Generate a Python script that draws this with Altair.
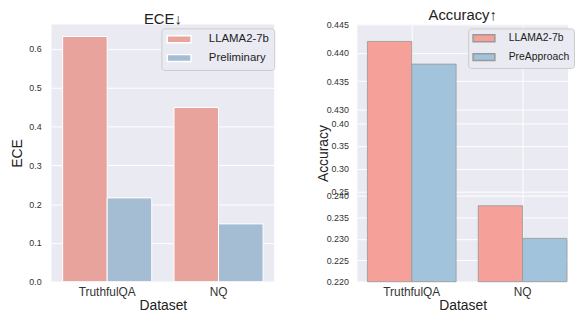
import altair as alt
import pandas as pd

datasets = ["TruthfulQA", "NQ"]

ece_models = ["LLAMA2-7b", "Preliminary"]
ece_llama = [0.632, 0.449]
ece_prelim = [0.216, 0.149]

acc_models = ["LLAMA2-7b", "PreApproach"]
acc_llama = [0.442, 0.2377]
acc_pre = [0.438, 0.2301]

ece_ticks = [0.0, 0.1, 0.2, 0.3, 0.4, 0.5, 0.6]
acc_ticks = [0.220, 0.225, 0.230, 0.235, 0.240, 0.25, 0.30, 0.35, 0.40,
             0.430, 0.435, 0.440, 0.445]
# broken-axis breakpoints (piecewise linear scale)
acc_breaks = [0.220, 0.240, 0.25, 0.40, 0.430, 0.445]
acc_break_px = [260, 173.3, 168.7, 99.8, 85.9, 0]

FONT = "Liberation Sans"
BG = "#eaeaf2"
H = 260

ece_df = pd.DataFrame({
    "Dataset": datasets * 2,
    "model": [ece_models[0]] * 2 + [ece_models[1]] * 2,
    "value": ece_llama + ece_prelim,
})
acc_df = pd.DataFrame({
    "Dataset": datasets * 2,
    "model": [acc_models[0]] * 2 + [acc_models[1]] * 2,
    "value": acc_llama + acc_pre,
    "base": [acc_breaks[0]] * 4,
})


def legend(x, y, size, half_w, sym_off, lab_off, pad, row_pad):
    path = f"M-{half_w},-0.7H{half_w}V0.7H-{half_w}Z"
    return alt.Legend(
        title=None, orient="none", legendX=x, legendY=y,
        fillColor=BG, strokeColor="#cccccc", padding=pad, cornerRadius=3,
        symbolType=path, symbolSize=100, symbolOffset=sym_off,
        labelOffset=lab_off, labelFontSize=size, labelFont=FONT, labelColor="#222",
        rowPadding=row_pad,
    )


xaxis = dict(labelAngle=0, labelFontSize=12, titleFontSize=14,
             labelPadding=5, titlePadding=1)

left = alt.Chart(ece_df, title=alt.Title("ECE↓", fontSize=15, offset=-3)).mark_bar(
    stroke="white", strokeWidth=1
).encode(
    x=alt.X("Dataset:N", sort=datasets,
            scale=alt.Scale(paddingInner=0.2, paddingOuter=0.1),
            axis=alt.Axis(grid=False, **xaxis)),
    xOffset=alt.XOffset("model:N", sort=ece_models,
                        scale=alt.Scale(paddingInner=0, paddingOuter=0)),
    y=alt.Y("value:Q", title="ECE",
            scale=alt.Scale(domain=[0, 0.663], nice=False, zero=True),
            axis=alt.Axis(values=ece_ticks, format=".1f", labelFontSize=9,
                          labelPadding=10.5, titleFontSize=14, titlePadding=4)),
    color=alt.Color("model:N", sort=ece_models,
                    scale=alt.Scale(domain=ece_models, range=["#e8a39d", "#a4bdd3"]),
                    legend=legend(111, 4, 11.5, 2.4, 7, 24, 5, 5)),
).properties(width=225, height=H)

right = alt.Chart(acc_df, title=alt.Title("Accuracy↑", fontSize=15, offset=-3)).mark_bar(
    stroke="#999999", strokeWidth=1, strokeOpacity=0.85
).encode(
    x=alt.X("Dataset:N", sort=datasets,
            scale=alt.Scale(paddingInner=0.2, paddingOuter=0.051, align=0.895),
            axis=alt.Axis(grid=True, bandPosition=0.5, **xaxis)),
    xOffset=alt.XOffset("model:N", sort=acc_models,
                        scale=alt.Scale(paddingInner=0, paddingOuter=0)),
    y=alt.Y("value:Q", title="Accuracy",
            scale=alt.Scale(domain=acc_breaks, range=acc_break_px, nice=False, zero=False),
            axis=alt.Axis(values=acc_ticks, labelFontSize=9, labelPadding=9,
                          labelOverlap=False,
                          labelExpr="(datum.value > 0.245 && datum.value < 0.41) ? format(datum.value, '.2f') : format(datum.value, '.3f')",
                          titleFontSize=14, titlePadding=-4)),
    y2="base:Q",
    color=alt.Color("model:N", sort=acc_models,
                    scale=alt.Scale(domain=acc_models, range=["#f5a19a", "#a2c3dc"]),
                    legend=legend(112, 4, 10.5, 2.2, 6, 19, 4, 5)),
).properties(width=213, height=H)

chart = alt.hconcat(left, right, spacing=84, bounds="flush").resolve_scale(
    color="independent", y="independent", x="independent", xOffset="independent"
).properties(
    padding={"left": 2, "top": -1, "right": 0, "bottom": 0}
).configure(
    font=FONT,
).configure_view(
    fill=BG, stroke=None,
).configure_axis(
    domain=False, ticks=False, gridColor="white", gridWidth=1,
    labelColor="#333", titleColor="#222", labelFont=FONT, titleFont=FONT,
    titleFontWeight="normal",
).configure_title(
    font=FONT, fontWeight="normal", color="#222", anchor="middle",
)

chart.save("out.html", embed_options={"renderer": "svg", "actions": False})
